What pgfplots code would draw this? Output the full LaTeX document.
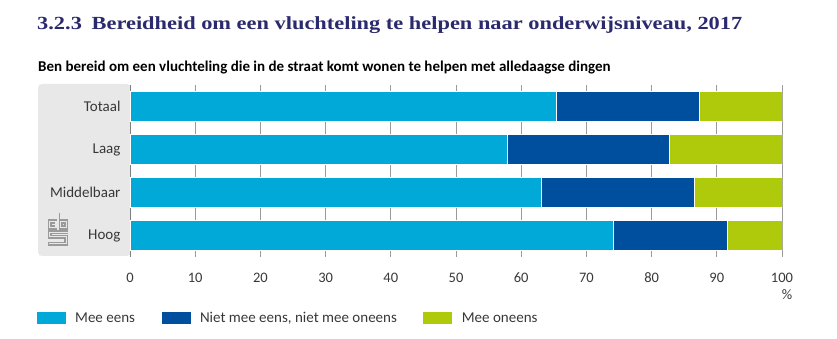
\documentclass[border=0pt]{standalone}
\usepackage{pgfplots}
\pgfplotsset{compat=1.18}
\usepackage{fontspec}
\setmainfont{Carlito}
\newfontfamily\titlefont{Liberation Serif}
\definecolor{cA}{HTML}{00A9D8}
\definecolor{cB}{HTML}{004F9E}
\definecolor{cC}{HTML}{AFCA0B}
\definecolor{titlec}{HTML}{2B2A6E}
\definecolor{panel}{HTML}{E8E8E8}
\definecolor{txt}{HTML}{383838}
\definecolor{logo}{HTML}{9A9A9A}
\begin{document}
\begin{tikzpicture}[x=1pt,y=1pt]
\path[use as bounding box] (0,0) rectangle (837,339);
\node[anchor=base west, inner sep=0, text=titlec, font=\titlefont\bfseries\fontsize{18.5}{20}\selectfont] at (37,309) {\scalebox{1.21}[1]{3.2.3\hspace{8pt}Bereidheid om een vluchteling te helpen naar onderwijsniveau, 2017}};
\node[anchor=base west, inner sep=0, font=\bfseries\fontsize{15}{17}\selectfont] at (38,267) {Ben bereid om een vluchteling die in de straat komt wonen te helpen met alledaagse dingen};
\fill[panel, rounded corners=4pt] (38,83) rectangle (131,255);
% CBS logo
\begin{scope}[logo, line width=1.1pt]
\draw (57,119) -- (48.5,119) -- (48.5,110) -- (57,110);
\draw (55,116) -- (51,116) -- (51,113) -- (55,113);
\draw (59.5,126) -- (59.5,110) -- (67.5,110) -- (67.5,119) -- (59.5,119);
\draw (62,116) rectangle (65,113);
\draw (67.5,108) -- (48.5,108) -- (48.5,101) -- (65,101) -- (65,96.5) -- (48.5,96.5) -- (48.5,94) -- (67.5,94) -- (67.5,103.5) -- (51,103.5) -- (51,105.5) -- (67.5,105.5);
\end{scope}
\begin{axis}[at={(130pt,82pt)}, anchor=south west, width=652pt, height=172pt, scale only axis,
  xmin=0, xmax=100, ymin=-0.5, ymax=3.5,
  xbar stacked, bar width=29.5pt,
  xtick={0,10,...,100}, ytick={0,1,2,3}, yticklabels={Hoog,Middelbaar,Laag,Totaal},
  axis line style={draw=none}, major tick length=0,
  xmajorgrids, grid style={color=logo, line width=0.9pt},
  xticklabel style={font=\fontsize{14.5}{16}\selectfont, text=txt, yshift=-12.5pt},
  yticklabel style={font=\fontsize{15}{17}\selectfont, text=txt, xshift=-6pt},
  /pgf/number format/assume math mode=true,
  legend style={at={(axis description cs:-0.1442,-0.3547)}, anchor=west, draw=none, fill=none,
    xshift=-2.5pt, font=\fontsize{15}{17}\selectfont, text=txt,
    /tikz/every odd column/.append style={column sep=7.5pt},
    /tikz/every even column/.append style={column sep=24.5pt}},
  legend columns=-1, legend cell align=left,
  legend image code/.code={\path[#1,draw=none] (0pt,-6pt) rectangle (29pt,6pt);},
]
\addplot[fill=cA, draw=white, line width=0.8pt] coordinates {(74.1,0) (63.1,1) (57.9,2) (65.4,3)};
\addplot[fill=cB, draw=white, line width=0.8pt] coordinates {(17.6,0) (23.4,1) (24.8,2) (21.9,3)};
\addplot[fill=cC, draw=white, line width=0.8pt] coordinates {(8.3,0) (13.5,1) (17.3,2) (12.7,3)};
\legend{Mee eens, {Niet mee eens, niet mee oneens}, Mee oneens}
\draw[color=gray, line width=2pt] (axis cs:0,-0.5) -- (axis cs:0,3.5);
\end{axis}
\node[anchor=base east, inner sep=0, text=txt, font=\fontsize{14.5}{16}\selectfont] at (792.5,39) {\%};
\end{tikzpicture}
\end{document}
